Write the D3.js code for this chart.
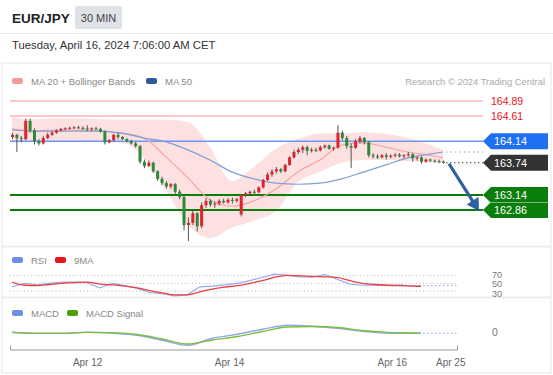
<!DOCTYPE html>
<html>
<head>
<meta charset="utf-8">
<script src="https://cdn.jsdelivr.net/npm/d3@7"></script>
<style>
  body { margin: 0; background: #fff; }
  svg { display: block; font-family: "Liberation Sans", Arial, sans-serif; }
</style>
</head>
<body>
<svg></svg>
<script>
// Dimension constants
const WIDTH = 553;
const HEIGHT = 375;
const FONT = '"Liberation Sans", Arial, sans-serif';

// candles: [open, high, low, close], 30 min
const candles = [
  [164.22,164.30,164.18,164.26],[164.26,164.28,163.94,164.20],[164.20,164.24,164.12,164.18],
  [164.18,164.56,164.16,164.52],[164.52,164.56,164.30,164.34],[164.34,164.38,164.08,164.14],
  [164.14,164.18,164.06,164.10],[164.10,164.24,164.08,164.20],[164.20,164.30,164.18,164.26],
  [164.26,164.33,164.24,164.30],[164.30,164.36,164.28,164.34],[164.34,164.39,164.32,164.37],
  [164.37,164.40,164.35,164.38],[164.38,164.41,164.36,164.39],[164.39,164.42,164.37,164.40],
  [164.40,164.43,164.37,164.39],[164.39,164.42,164.35,164.38],[164.38,164.44,164.33,164.36],
  [164.36,164.40,164.34,164.38],[164.38,164.41,164.35,164.37],[164.37,164.39,164.30,164.32],
  [164.32,164.34,164.08,164.12],[164.12,164.18,164.10,164.16],[164.16,164.28,164.14,164.26],
  [164.26,164.30,164.18,164.22],[164.22,164.24,164.16,164.18],[164.18,164.20,164.12,164.14],
  [164.14,164.17,164.08,164.10],[164.10,164.13,164.02,164.05],[164.05,164.07,163.72,163.76],
  [163.76,163.80,163.64,163.68],[163.68,163.78,163.66,163.74],[163.74,163.76,163.55,163.58],
  [163.58,163.60,163.40,163.44],[163.44,163.48,163.32,163.36],[163.36,163.40,163.26,163.30],
  [163.30,163.36,163.26,163.34],[163.34,163.36,163.16,163.20],[163.20,163.24,163.06,163.10],
  [163.10,163.12,162.48,162.58],[162.58,162.72,162.28,162.62],[162.62,162.85,162.58,162.80],
  [162.80,162.82,162.46,162.56],[162.56,163.00,162.52,162.95],[162.95,163.08,162.90,163.03],
  [163.03,163.06,162.92,162.96],[162.96,163.02,162.90,162.98],[162.98,163.06,162.94,163.03],
  [163.03,163.07,162.98,163.00],[163.00,163.08,162.98,163.05],[163.05,163.09,162.98,163.03],
  [163.03,163.08,163.00,163.06],[162.78,163.16,162.74,163.14],[163.14,163.20,163.10,163.17],
  [163.17,163.22,163.14,163.20],[163.20,163.24,163.16,163.19],[163.19,163.30,163.17,163.28],
  [163.28,163.44,163.26,163.42],[163.42,163.56,163.40,163.52],[163.52,163.62,163.48,163.58],
  [163.58,163.66,163.54,163.62],[163.62,163.64,163.55,163.58],[163.58,163.72,163.56,163.70],
  [163.70,163.86,163.68,163.84],[163.84,163.98,163.82,163.94],[163.94,164.02,163.90,163.98],
  [163.98,164.06,163.92,164.03],[164.03,164.06,163.88,163.96],[163.96,164.02,163.93,163.98],
  [163.98,164.02,163.94,163.97],[163.97,164.06,163.95,164.03],[164.03,164.08,164.00,164.06],
  [164.06,164.08,163.98,164.00],[164.00,164.04,163.96,164.02],[164.02,164.44,164.00,164.30],
  [164.30,164.34,164.16,164.20],[164.20,164.24,164.00,164.05],[164.05,164.10,163.64,164.02],
  [164.02,164.18,164.00,164.14],[164.14,164.24,164.10,164.20],[164.20,164.22,164.08,164.12],
  [164.12,164.14,163.84,163.88],[163.88,163.92,163.82,163.86],[163.86,163.90,163.81,163.84],
  [163.84,163.90,163.82,163.88],[163.88,163.92,163.80,163.85],[163.85,163.90,163.82,163.87],
  [163.87,163.92,163.84,163.89],[163.89,163.92,163.84,163.86],[163.86,163.90,163.82,163.88],
  [163.88,163.94,163.85,163.90],[163.90,163.92,163.76,163.82],[163.82,163.86,163.78,163.84],
  [163.84,163.86,163.72,163.76],[163.76,163.82,163.74,163.80],[163.80,163.82,163.75,163.78],
  [163.78,163.80,163.74,163.77],[163.77,163.80,163.73,163.76],[163.76,163.78,163.72,163.74]
];

// moving averages and bands, read at these candle indices
const bandIdx = [0,5,10,15,20,25,30,35,40,45,50,55,60,65,70,75,80,85,90,95,98];
const ma20 = [164.37,164.33,164.35,164.35,164.33,164.29,164.20,163.85,163.46,163.05,162.93,163.03,163.25,163.57,163.79,164.07,164.11,164.03,163.94,163.88,163.83];
const ma50 = [164.35,164.33,164.33,164.33,164.33,164.29,164.20,164.13,163.98,163.79,163.57,163.44,163.36,163.34,163.36,163.44,163.57,163.70,163.83,163.90,163.94];
const bbUpper = [164.59,164.55,164.57,164.57,164.55,164.54,164.54,164.54,164.50,164.03,163.40,163.66,164.00,164.18,164.29,164.29,164.31,164.28,164.20,164.07,163.98];
const bbLower = [164.13,164.13,164.15,164.15,164.13,164.11,163.83,163.23,162.58,162.34,162.53,162.66,162.84,163.38,163.57,163.74,163.79,163.79,163.77,163.75,163.74];

// RSI
const rsiIdx = [0,3,6,9,12,15,18,21,24,27,30,33,36,39,42,45,48,51,54,57,60,63,66,69,72,75,78,81,84,87,90,93,96,98];
const rsi = [41,50,46,50,53,53,52,38,50,44,37,26,23,17,20,41,43,46,50,57,66,74,71,67,66,73,60,48,45,46,45,46,43,44];
const rsiMa = [53,45,44,47,50,52,53,48,46,43,38,31,25,20,20,28,35,40,44,50,57,66,71,70,68,67,65,57,50,47,45,44,43,42];

// MACD
const macdIdx = [0,6,12,18,24,30,36,42,48,54,60,66,72,78,84,90,96,98];
const macd = [0.00,-0.01,-0.01,0.00,-0.01,-0.03,-0.08,-0.13,-0.06,-0.02,0.03,0.07,0.06,0.04,0.01,-0.01,-0.01,-0.01];
const macdSignal = [0.00,-0.01,-0.01,0.00,-0.004,-0.022,-0.067,-0.117,-0.077,-0.042,0.008,0.053,0.058,0.048,0.018,0.00,-0.007,-0.01];

// levels
const resistances = [164.89, 164.61];
const pivot = 164.14;
const lastPrice = 163.74;
const supports = [163.14, 162.86];
const target = 162.86;

// x axis
const tickIdx = [18, 52, 91, 105];
const tickLabels = ['Apr 12', 'Apr 14', 'Apr 16', 'Apr 25'];

const svg = d3.select('svg')
    .attr('width', WIDTH)
    .attr('height', HEIGHT);

const last = candles.length - 1;
const LINE_END = 483;
const IND_END = 457;

const x = d3.scaleLinear().domain([0, last]).range([12, 443]);
const xInd = d3.scaleLinear().domain([0, last]).range([12, 421]);
const y = d3.scaleLinear().domain([162.86, 164.89]).range([210, 101]);
const yRsi = d3.scaleLinear().domain([30, 70]).range([291, 275.7]);
const yMacd = d3.scaleLinear().domain([-0.15, 0.10]).range([347.3, 322.3]);

// header
svg.append('text').attr('x', 12).attr('y', 23)
    .attr('font-size', 13.5).attr('font-weight', 'bold').attr('fill', '#222')
    .text('EUR/JPY');
svg.append('rect').attr('x', 75).attr('y', 6).attr('width', 47).attr('height', 23)
    .attr('rx', 2).attr('fill', '#dfe2e7');
svg.append('text').attr('x', 98.5).attr('y', 21.5).attr('text-anchor', 'middle')
    .attr('font-size', 11).attr('fill', '#444').text('30 MIN');
svg.append('line').attr('x1', 0).attr('x2', WIDTH).attr('y1', 33.5).attr('y2', 33.5)
    .attr('stroke', '#e6e8ec');
svg.append('text').attr('x', 12).attr('y', 49)
    .attr('font-size', 11.3).attr('fill', '#333')
    .text('Tuesday, April 16, 2024 7:06:00 AM CET');

// panel frame
svg.append('rect').attr('x', 2).attr('y', 63).attr('width', 549).attr('height', 310)
    .attr('fill', 'none').attr('stroke', '#eceef2').attr('stroke-width', 1.5);
[246.5, 297.5].forEach(v => {
    svg.append('line').attr('x1', 2).attr('x2', 551).attr('y1', v).attr('y2', v)
        .attr('stroke', '#eceef2').attr('stroke-width', 2);
});

// legend helper
function legendItem(g, lx, ly, color, label) {
    g.append('rect').attr('x', lx).attr('y', ly - 3).attr('width', 11).attr('height', 6)
        .attr('rx', 2).attr('fill', color);
    g.append('text').attr('x', lx + 19).attr('y', ly + 3.5)
        .attr('font-size', 9.5).attr('fill', '#888').text(label);
}
const legends = svg.append('g');
legendItem(legends, 12, 81, '#f59a9a', 'MA 20 + Bollinger Bands');
legendItem(legends, 146, 81, '#2d5c9c', 'MA 50');
legendItem(legends, 12, 260, '#6f8fe6', 'RSI');
legendItem(legends, 55, 260, '#e8141c', '9MA');
legendItem(legends, 12, 313, '#6f8fe6', 'MACD');
legendItem(legends, 67, 313, '#4ea000', 'MACD Signal');
svg.append('text').attr('x', 545).attr('y', 84.5).attr('text-anchor', 'end')
    .attr('font-size', 9.4).attr('fill', '#aaa').text('Research © 2024 Trading Central');

// bollinger band
const band = d3.area()
    .x((d, i) => x(bandIdx[i]))
    .y0((d, i) => y(bbLower[i]))
    .y1(d => y(d))
    .curve(d3.curveMonotoneX);
svg.append('path').datum(bbUpper).attr('d', band)
    .attr('fill', '#fde0e0');

// level lines
const levels = svg.append('g');
resistances.forEach(p => {
    levels.append('line').attr('x1', 10).attr('x2', LINE_END)
        .attr('y1', y(p)).attr('y2', y(p))
        .attr('stroke', '#f9b6b6').attr('stroke-width', 1.5);
    levels.append('text').attr('x', 491).attr('y', y(p)).attr('dy', '0.36em')
        .attr('font-size', 10.5).attr('fill', '#e8141c').text(p.toFixed(2));
});
levels.append('line').attr('x1', 10).attr('x2', LINE_END)
    .attr('y1', y(pivot)).attr('y2', y(pivot))
    .attr('stroke', '#6b95f2').attr('stroke-width', 1.5);
supports.forEach(p => {
    levels.append('line').attr('x1', 10).attr('x2', LINE_END)
        .attr('y1', y(p)).attr('y2', y(p))
        .attr('stroke', '#0b7d0b').attr('stroke-width', 2);
});

// moving averages
const maLine = d3.line()
    .x((d, i) => x(bandIdx[i]))
    .y(d => y(d))
    .curve(d3.curveMonotoneX);
svg.append('path').datum(ma20).attr('d', maLine)
    .attr('fill', 'none').attr('stroke', '#f4a3a3').attr('stroke-width', 1.2);
svg.append('path').datum(ma50).attr('d', maLine)
    .attr('fill', 'none').attr('stroke', '#809fd4').attr('stroke-width', 1.2);
svg.append('line').attr('x1', x(last) + 3).attr('x2', LINE_END)
    .attr('y1', y(ma50[ma50.length - 1])).attr('y2', y(ma50[ma50.length - 1]))
    .attr('stroke', '#809fd4').attr('stroke-dasharray', '1.5,3');

// candles
const cg = svg.append('g');
const colorOf = d => d[3] > d[0] ? '#e0232b' : (d[3] < d[0] ? '#2a8a3a' : '#666');
cg.selectAll('.wick').data(candles).enter().append('line')
    .attr('x1', (d, i) => x(i) + 0.5).attr('x2', (d, i) => x(i) + 0.5)
    .attr('y1', d => y(d[1])).attr('y2', d => y(d[2]))
    .attr('stroke', '#555').attr('stroke-width', 1);
cg.selectAll('.body').data(candles).enter().append('rect')
    .attr('x', (d, i) => x(i) - 1)
    .attr('width', 3)
    .attr('y', d => y(Math.max(d[0], d[3])))
    .attr('height', d => Math.max(1, Math.abs(y(d[0]) - y(d[3]))))
    .attr('fill', colorOf);

// last price dotted
svg.append('line').attr('x1', x(last) + 3).attr('x2', LINE_END)
    .attr('y1', y(lastPrice)).attr('y2', y(lastPrice))
    .attr('stroke', '#444').attr('stroke-dasharray', '1.5,2.5');

// arrow to target
const ax0 = x(last) + 6, ay0 = y(lastPrice) + 1;
const ax1 = x(last) + 36, ay1 = y(target) + 1;
const len = Math.hypot(ax1 - ax0, ay1 - ay0);
const ux = (ax1 - ax0) / len, uy = (ay1 - ay0) / len;
svg.append('line').attr('x1', ax0).attr('y1', ay0)
    .attr('x2', ax1 - ux * 10).attr('y2', ay1 - uy * 10)
    .attr('stroke', '#2f5f9f').attr('stroke-width', 3.2);
const bx = ax1 - ux * 12, by = ay1 - uy * 12;
svg.append('path')
    .attr('d', `M${ax1},${ay1}L${bx - uy * 7},${by + ux * 7}L${bx + uy * 7},${by - ux * 7}Z`)
    .attr('fill', '#2f5f9f');

// price labels
function priceTag(p, color) {
    const cy = y(p);
    svg.append('path')
        .attr('d', `M${LINE_END},${cy}L${LINE_END + 8},${cy - 8}H548V${cy + 8}H${LINE_END + 8}Z`)
        .attr('fill', color);
    svg.append('text').attr('x', 494).attr('y', cy).attr('dy', '0.36em')
        .attr('font-size', 10.8).attr('fill', '#fff').text(p.toFixed(2));
}
priceTag(pivot, '#1f6ff2');
priceTag(lastPrice, '#333333');
supports.forEach(p => priceTag(p, '#0b7d0b'));
svg.append('line').attr('x1', LINE_END + 6).attr('x2', 548)
    .attr('y1', (y(supports[0]) + y(supports[1])) / 2).attr('y2', (y(supports[0]) + y(supports[1])) / 2)
    .attr('stroke', '#fff').attr('stroke-width', 0.8).attr('opacity', 0.6);

// RSI panel
[70, 50, 30].forEach(v => {
    svg.append('line').attr('x1', 10).attr('x2', IND_END)
        .attr('y1', yRsi(v)).attr('y2', yRsi(v))
        .attr('stroke', '#bbb').attr('stroke-dasharray', '1,2.5');
});
[[70, -1], [50, 0.5], [30, 2.5]].forEach(([v, dy]) => {
    svg.append('text').attr('x', 492).attr('y', yRsi(v) + dy).attr('dy', '0.36em')
        .attr('font-size', 9).attr('fill', '#777').text(v);
});
svg.append('path').datum(rsi)
    .attr('d', d3.line().x((d, i) => xInd(rsiIdx[i])).y(d => yRsi(d)))
    .attr('fill', 'none').attr('stroke', '#93abf0').attr('stroke-width', 1.2);
svg.append('path').datum(rsiMa)
    .attr('d', d3.line().x((d, i) => xInd(rsiIdx[i])).y(d => yRsi(d)).curve(d3.curveMonotoneX))
    .attr('fill', 'none').attr('stroke', '#ee4040').attr('stroke-width', 1.3);
svg.append('line').attr('x1', xInd(last) + 2).attr('x2', IND_END)
    .attr('y1', yRsi(rsi[rsi.length - 1])).attr('y2', yRsi(rsi[rsi.length - 1]))
    .attr('stroke', '#93abf0').attr('stroke-dasharray', '1.5,2.5');

// MACD panel
const macdLine = d3.line()
    .x((d, i) => xInd(macdIdx[i]))
    .y(d => yMacd(d))
    .curve(d3.curveMonotoneX);
svg.append('path').datum(macd).attr('d', macdLine)
    .attr('fill', 'none').attr('stroke', '#8fa8ef').attr('stroke-width', 1.4);
svg.append('path').datum(macdSignal).attr('d', macdLine)
    .attr('fill', 'none').attr('stroke', '#7cbf3a').attr('stroke-width', 1.3);
svg.append('line').attr('x1', xInd(last) + 2).attr('x2', IND_END)
    .attr('y1', yMacd(macd[macd.length - 1])).attr('y2', yMacd(macd[macd.length - 1]))
    .attr('stroke', '#8fa8ef').attr('stroke-dasharray', '1.5,2.5');
svg.append('text').attr('x', 492).attr('y', yMacd(0)).attr('dy', '0.36em')
    .attr('font-size', 10.5).attr('fill', '#777').text('0');

// x axis
const axisScale = d3.scaleLinear()
    .domain([xInd.invert(10), xInd.invert(IND_END)])
    .range([10, IND_END]);
const xAxis = d3.axisBottom(axisScale)
    .tickValues(tickIdx)
    .tickFormat((d, i) => tickLabels[i])
    .tickSizeInner(0)
    .tickSizeOuter(-4)
    .tickPadding(9);
const axisG = svg.append('g')
    .attr('transform', 'translate(0, 349.5)')
    .call(xAxis);
axisG.select('.domain').attr('stroke', '#999');
axisG.selectAll('text').attr('font-size', 10).attr('fill', '#666')
    .attr('font-family', FONT);
</script>
</body>
</html>
